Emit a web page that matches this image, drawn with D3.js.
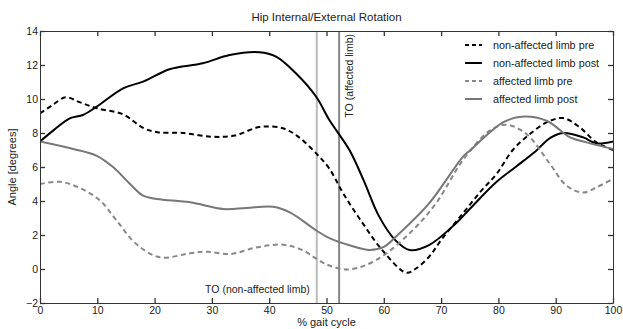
<!DOCTYPE html>
<html>
<head>
<meta charset="utf-8">
<script src="https://cdn.jsdelivr.net/npm/d3@7"></script>
<style>
  body { margin: 0; background: #fff; }
  svg text { font-family: "Liberation Sans", Arial, sans-serif; font-size: 10.5px; fill: #222; }
</style>
</head>
<body>
<div id="chart"></div>
<script>
// x = % gait cycle, y = angle in degrees
var nonAffectedPre = [[0,9.15],[2,9.6],[4.5,10.1],[7,9.8],[10,9.45],[14.5,9.1],[18,8.3],[20.5,8.05],[25,8.0],[30,7.78],[34,7.85],[38.3,8.35],[42.4,8.28],[45,7.8],[48.2,6.8],[50.5,5.9],[53,4.4],[56.3,2.7],[60,1.0],[63.9,-0.22],[65.5,0.0],[67.9,0.72],[70,1.7],[73.8,3.27],[77,4.6],[79.7,5.6],[82.5,7.0],[85.5,7.94],[88.4,8.62],[91.3,8.88],[94.2,8.33],[97.1,7.45],[100,7.0]];
var nonAffectedPost = [[0,7.5],[2.5,8.2],[5.2,8.86],[7.5,9.06],[9.9,9.55],[14.5,10.63],[18,11.02],[22.6,11.75],[28.4,12.1],[33.1,12.59],[38.3,12.75],[41.2,12.49],[44.7,11.5],[48.2,10.13],[50.5,8.76],[54,7.0],[56.5,5.2],[59.2,3.08],[62,1.7],[64.5,1.12],[67.9,1.41],[72.6,2.69],[75,3.53],[79.6,5.1],[83,6.0],[86.6,6.96],[89,7.7],[91.3,8.0],[94.8,7.74],[97.1,7.39],[100,7.5]];
var affectedPre = [[0,5.0],[3.5,5.13],[7,4.76],[10.5,4.02],[13.4,2.84],[16.8,1.47],[20.9,0.69],[26.2,0.92],[29.1,1.02],[33.2,0.88],[37.8,1.27],[42.5,1.43],[46,1.08],[48.3,0.59],[50.6,0.19],[54,-0.02],[58.7,0.53],[64.5,2.1],[69.1,3.86],[73.8,6.4],[78.5,8.14],[81.4,8.49],[84.9,7.94],[89,6.18],[91.9,4.9],[94.8,4.5],[97.1,4.8],[100,5.3]];
var affectedPost = [[0,7.5],[5.8,7.06],[9.9,6.66],[12.8,5.98],[15.7,5.0],[18,4.31],[20.4,4.12],[26.2,3.92],[32,3.53],[36,3.59],[40.7,3.66],[43.6,3.33],[48.3,2.25],[50.6,1.8],[54,1.4],[57.5,1.12],[60,1.3],[62.1,1.9],[67.9,3.86],[73.8,6.6],[75,6.96],[80.8,8.62],[84,8.96],[88.4,8.72],[92.5,7.74],[95.4,7.45],[100,7.06]];

var seriesNames = ["non-affected limb pre", "non-affected limb post", "affected limb pre", "affected limb post"];
var seriesColors = ["#000", "#000", "#888", "#777"];
var seriesDash = ["5,3.5", null, "5,3.5", null];
var seriesData = [nonAffectedPre, nonAffectedPost, affectedPre, affectedPost];

var toeOff = [48.3, 52.2];          // toe-off markers
var toeOffColors = ["#bbb", "#888"];

var xTicks = [0,10,20,30,40,50,60,70,80,90,100];
var yTicks = [-2,0,2,4,6,8,10,12,14];

var width = 623, height = 329;
var margin = {top: 31, right: 10, bottom: 26, left: 40};

var svg = d3.select("#chart").append("svg")
  .attr("width", width)
  .attr("height", height);

var x = d3.scaleLinear().domain([0, 100]).range([margin.left, width - margin.right]);
var y = d3.scaleLinear().domain([-2, 14]).range([height - margin.bottom, margin.top]);

// clip for the curves
svg.append("clipPath").attr("id", "clip")
  .append("rect")
  .attr("x", x(0)).attr("y", y(14))
  .attr("width", x(100) - x(0)).attr("height", y(-2) - y(14));

// toe-off vertical lines
svg.selectAll(".to")
  .data(toeOff)
  .enter().append("line")
  .attr("x1", function(d) { return x(d); })
  .attr("x2", function(d) { return x(d); })
  .attr("y1", y(14)).attr("y2", y(-2))
  .attr("stroke", function(d, i) { return toeOffColors[i]; })
  .attr("stroke-width", 2);

// curves
var line = d3.line()
  .x(function(d) { return x(d[0]); })
  .y(function(d) { return y(d[1]); })
  .curve(d3.curveCatmullRom.alpha(0.5));

svg.append("g").attr("clip-path", "url(#clip)")
  .selectAll("path")
  .data(seriesData)
  .enter().append("path")
  .attr("d", line)
  .attr("fill", "none")
  .attr("stroke", function(d, i) { return seriesColors[i]; })
  .attr("stroke-width", 2)
  .attr("stroke-dasharray", function(d, i) { return seriesDash[i]; });

// axes with inward ticks on all four sides
var axisStyle = function(g) {
  g.select(".domain").attr("stroke", "#333");
  g.selectAll(".tick line").attr("stroke", "#333").attr("stroke-width", 1.3);
};

svg.append("g")
  .attr("transform", "translate(0," + y(-2) + ")")
  .call(d3.axisBottom(x).tickValues(xTicks).tickSizeInner(-5).tickSizeOuter(0).tickPadding(4))
  .call(axisStyle)
  .call(function(g) { g.selectAll("text").attr("font-size", 10).attr("font-family", null); });

svg.append("g")
  .attr("transform", "translate(0," + y(14) + ")")
  .call(d3.axisTop(x).tickValues(xTicks).tickSizeInner(-5).tickSizeOuter(0).tickFormat(""))
  .call(axisStyle);

svg.append("g")
  .attr("transform", "translate(" + x(0) + ",0)")
  .call(d3.axisLeft(y).tickValues(yTicks).tickSizeInner(-5).tickSizeOuter(0).tickPadding(2))
  .call(axisStyle)
  .call(function(g) { g.selectAll("text").attr("font-size", 10).attr("font-family", null); });

svg.append("g")
  .attr("transform", "translate(" + x(100) + ",0)")
  .call(d3.axisRight(y).tickValues(yTicks).tickSizeInner(-5).tickSizeOuter(0).tickFormat(""))
  .call(axisStyle);

// titles
svg.append("text")
  .attr("x", (x(0) + x(100)) / 2).attr("y", 21)
  .attr("text-anchor", "middle")
  .style("font-size", "11.5px")
  .text("Hip Internal/External Rotation");

svg.append("text")
  .attr("x", (x(0) + x(100)) / 2).attr("y", 326)
  .attr("text-anchor", "middle")
  .style("font-size", "11px")
  .text("% gait cycle");

svg.append("text")
  .attr("transform", "translate(16," + (y(6)) + ") rotate(-90)")
  .attr("text-anchor", "middle")
  .style("font-size", "11px")
  .text("Angle [degrees]");

// toe-off labels
svg.append("text")
  .attr("transform", "translate(" + (x(toeOff[1]) + 14) + "," + (y(14) + 3) + ") rotate(-90)")
  .attr("text-anchor", "end")
  .text("TO (affected limb)");

svg.append("text")
  .attr("x", x(toeOff[0]) - 7).attr("y", y(-2) - 10)
  .attr("text-anchor", "end")
  .text("TO (non-affected limb)");

// legend
var legend = svg.selectAll(".legend")
  .data(seriesNames)
  .enter().append("g")
  .attr("class", "legend")
  .attr("transform", function(d, i) { return "translate(465," + (45 + i * 18) + ")"; });

legend.append("line")
  .attr("x1", 0).attr("x2", 17)
  .attr("stroke", function(d, i) { return seriesColors[i]; })
  .attr("stroke-width", 2)
  .attr("stroke-dasharray", function(d, i) { return seriesDash[i] ? "4,3" : null; });

legend.append("text")
  .attr("x", 28).attr("y", 4)
  .style("font-size", "10.8px")
  .text(function(d) { return d; });
</script>
</body>
</html>
